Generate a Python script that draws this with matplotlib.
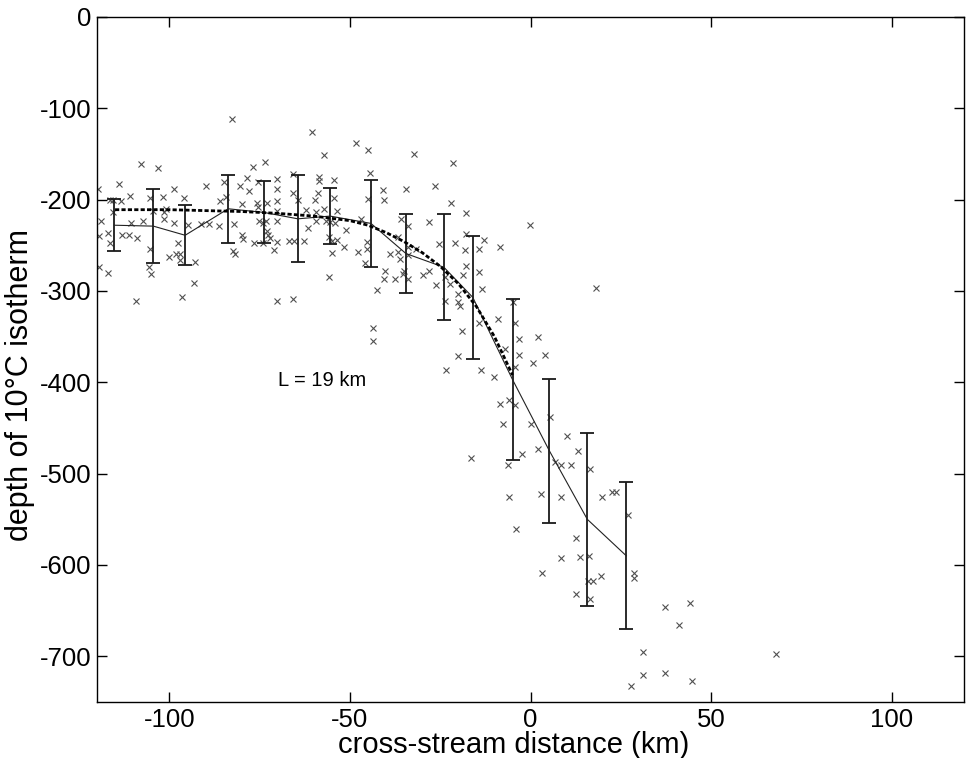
import matplotlib
matplotlib.use('Agg')
import matplotlib.pyplot as plt
import numpy as np

plt.rcParams['font.family'] = ['Liberation Sans', 'DejaVu Sans']
plt.rcParams['axes.unicode_minus'] = False

# individual casts: cross-stream distance (km), depth of 10C isotherm (m)
obs_x = [-107.7, -103, -114, -110.8, -113.3, -119, -115.7, -119.4, -116.9, -116.3,
         -119.4, -116.9, -110.5, -113, -111.2, -108.8, -109.3, -107.2, -105.2, -101.8,
         -104.5, -101.5, -101.5, -98.7, -96, -98.7, -105.2, -105.5, -105, -100.1,
         -98, -96.9, -97.5, -96.9, -96.6, -94.7, -93, -93.1, -89.8, -89,
         -86.1, -84.9, -85.9, -84.4, -82, -80.3, -78.5, -76.9, -77.9, -80,
         -79.8, -79.6, -82.3, -81.8, -73.6, -75.4, -75.7, -73, -75.5, -74,
         -75.3, -73.1, -73, -72.6, -72.2, -76.5, -74, -71.1, -70.1, -70.1,
         -70.1, -70.1, -70.1, -70.1, -70.2, -65.8, -65.7, -65.8, -67, -65.4,
         -62.7, -64.4, -62.2, -61.6, -59.6, -59.4, -58.5, -58.5, -57.1, -57.1,
         -58.9, -55.7, -55.7, -56.6, -119.7, -82.6, -60.5, -115.5, -116.3, -101,
         -91.3,
         -48.3, -45.1, -32.2, -21.6, -44.5, -54.3, -40.8, -34.6, -26.4, -54.3,
         -44.9, -40.5, -22, -53.7, -17.8, -59.5, -55.5, -51.1, -46.8, -54.1,
         -35.9, -28.2, -33.9, -54.9, -53.7, -55, -51.7, -47.9, -45.4, -45.4,
         -45.7, -42.5, -40.3, -40.5, -37.4, -35.4, -34.9, -33.8, -38.9, -36.7,
         -36.8, -36.1, -33.8, -31.8, -29.7, -28, -26.3, -25.4, -21, -18,
         -12.9, -8.6, -0.2, -18.1, -14.4, -17.8, -14.4, -18.6, -23.8, -20.1,
         -20.1, -19.5, -13.5, -23.7, -9, -4.8, -34, -22.3,
         -14.4, -18.9, -4.3, -3.2, -3.3, -7.2, -4.3, -20.1, -23.5, -13.8,
         -10.1, -43.5, -43.5,
         18.2, 2, 4, 0.8, -6, -8.5, -4.3, -7.7, 0, 5.3,
         10, 13.1, 16.4, 2, -2.3, -16.6, -6.2, 6.7, 8.3, 11.2,
         2.8, 8.3, -6, 19.9, 22.4, 23.7, 27, -4.1,
         12.7, 8.5, 13.6, 16.1, 3.1, 19.6, 16, 17.3, 28.6, 28.6,
         12.7, 16.4, 37.1, 44.1, 41, 31.2, 31.2, 37.1, 27.8, 44.7,
         68]
obs_depth = [-161, -165, -183, -196, -201, -223, -213, -240, -237, -247,
             -274, -280, -226, -239, -239, -242, -311, -223, -198, -197,
             -212, -214, -221, -188, -198, -226, -254, -274, -281, -263,
             -260, -260, -247, -266, -307, -228, -268, -291, -185, -227,
             -229, -181, -201, -197, -227, -185, -176, -164, -190, -205,
             -239, -243, -256, -260, -159, -181, -204, -204, -208, -226,
             -223, -223, -234, -239, -242, -247, -247, -255, -177, -188,
             -201, -212, -223, -246, -311, -193, -172, -309, -245, -245,
             -245, -200, -211, -231, -200, -213, -175, -180, -151, -210,
             -193, -241, -285, -223, -188, -112, -126, -200, -200, -210,
             -227,
             -138, -146, -150, -160, -171, -178, -189, -188, -185, -198,
             -199, -200, -204, -212, -215, -223, -224, -233, -221, -226,
             -221, -224, -229, -245, -244, -258, -252, -257, -246, -254,
             -269, -299, -278, -287, -287, -281, -278, -287, -259, -241,
             -257, -265, -252, -254, -282, -278, -293, -249, -247, -238,
             -244, -252, -228, -255, -254, -273, -279, -283, -311, -303,
             -312, -316, -298, -285, -331, -312, -261, -292,
             -335, -344, -335, -353, -370, -364, -383, -371, -387, -387,
             -394, -340, -355,
             -297, -350, -370, -379, -419, -424, -425, -446, -446, -438,
             -459, -475, -495, -473, -478, -483, -491, -487, -491, -490,
             -522, -526, -526, -526, -520, -520, -545, -561,
             -570, -592, -591, -590, -609, -612, -618, -618, -609, -614,
             -632, -637, -646, -642, -666, -695, -721, -718, -732, -727,
             -697]

# bin averages with standard deviation
bin_x = [-115.2, -104.4, -95.6, -83.7, -73.8, -64.4, -55.5, -44.2,
         -34.5, -24.0, -16.0, -5.0, 5.2, 15.7, 26.5]
bin_mean = [-228, -229, -239, -210, -214, -221, -218, -226,
            -259, -274, -307, -397, -475, -550, -590]
bin_std = [28.5, 40.5, 33, 37.5, 34, 47.5, 31, 47.5,
           43.5, 58, 67.5, 88.5, 79, 95, 80.5]

# fitted profile, L = 19 km
fit_x = [-115, -100, -90, -80, -70, -60, -50, -45, -40, -35,
         -30, -25, -20, -15, -10, -5]
fit_y = [-211, -211, -212, -213, -215, -218, -223, -228, -236, -246,
         -258, -273, -292, -317, -350, -392]

fig = plt.figure(figsize=(9.7, 7.58), dpi=100)
ax = fig.add_axes([0.100, 0.0739, 0.894, 0.9037])

ax.plot(obs_x, obs_depth, 'x', color='#505050', markersize=4, markeredgewidth=0.8)
ax.errorbar(bin_x, bin_mean, yerr=bin_std, fmt='none', ecolor='#1a1a1a',
            elinewidth=1.3, capsize=5, capthick=1.3)
ax.plot(bin_x, bin_mean, '-', color='#222222', linewidth=0.8)
ax.plot(fit_x, fit_y, color='black', linewidth=2.0, linestyle=(0, (1.5, 0.8)))

ax.text(-69.8, -398, 'L = 19 km', fontsize=14.5, va='center', ha='left')

ax.set_xlim(-120, 120)
ax.set_ylim(-750, 0)
ax.set_xticks([-100, -50, 0, 50, 100])
ax.set_yticks([0, -100, -200, -300, -400, -500, -600, -700])
ax.tick_params(direction='in', length=7, width=1, top=True, right=True,
               labelsize=18.5, pad=4)
for s in ax.spines.values():
    s.set_linewidth(1)

ax.set_xlabel('cross-stream distance (km)', fontsize=21)
ax.xaxis.set_label_coords(0.481, -0.042)
ax.set_ylabel('depth of 10°C isotherm', fontsize=22)
ax.yaxis.set_label_coords(-0.072, 0.463)

fig.savefig('out.png', dpi=100)
